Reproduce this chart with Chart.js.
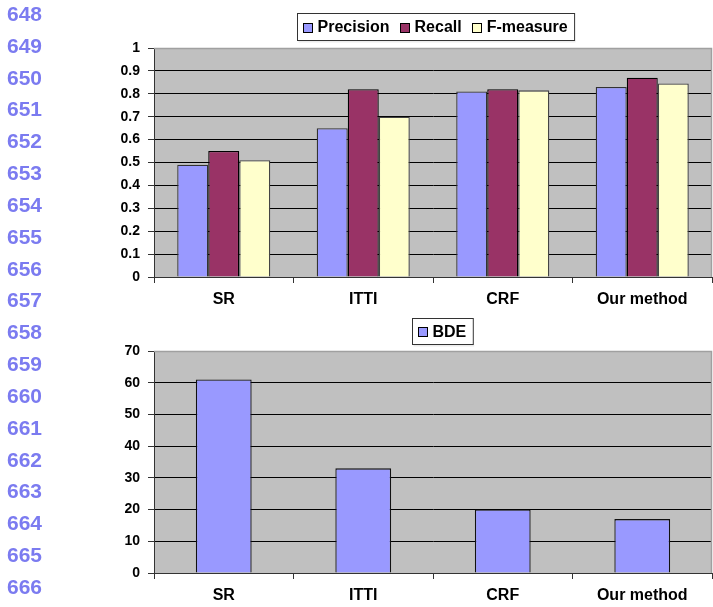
<!DOCTYPE html>
<html>
<head>
<meta charset="utf-8">
<script src="https://cdn.jsdelivr.net/npm/chart.js@4"></script>
<style>
  html, body { margin: 0; padding: 0; background: #fff; width: 713px; height: 607px; overflow: hidden; }
  #wrap { position: relative; width: 713px; height: 607px; }
  canvas { position: absolute; left: 0; }
  .ln {
    position: absolute; left: 7px;
    font: bold 20px 'Liberation Sans', Arial, sans-serif;
    color: #7b7bf0; line-height: 20px;
    transform: scaleX(1.05); transform-origin: left center;
  }
</style>
</head>
<body>
<div id="wrap">
  <canvas id="top" width="713" height="310" style="top:0"></canvas>
  <canvas id="bottom" width="713" height="302" style="top:305px"></canvas>
</div>
<script>
// Methods compared on the x axis of both panels
const methods = ['SR', 'ITTI', 'CRF', 'Our method'];

// Upper panel: retrieval scores
const precision = [0.49, 0.65, 0.81, 0.83];
const recall    = [0.55, 0.82, 0.82, 0.87];
const fMeasure  = [0.51, 0.70, 0.815, 0.845];
const scoreTicks = ['0', '0.1', '0.2', '0.3', '0.4', '0.5', '0.6', '0.7', '0.8', '0.9', '1'];

// Lower panel: boundary displacement error
const bde = [61, 33, 20, 17];
const bdeTicks = ['0', '10', '20', '30', '40', '50', '60', '70'];

// Manuscript line numbers in the margin
const lineNumbers = [648, 649, 650, 651, 652, 653, 654, 655, 656, 657,
                     658, 659, 660, 661, 662, 663, 664, 665, 666];

const wrap = document.getElementById('wrap');
lineNumbers.forEach((n, i) => {
  const d = document.createElement('div');
  d.className = 'ln';
  d.textContent = String(n);
  d.style.top = (14 + i * 31.83 - 10) + 'px';
  wrap.appendChild(d);
});

Chart.defaults.font.family = "'Liberation Sans', Arial, sans-serif";
Chart.defaults.color = '#000';

// Grey plot background plus light frame along the top and right edges
const plotFrame = {
  id: 'plotFrame',
  beforeDraw(chart) {
    const { ctx, chartArea: a } = chart;
    ctx.save();
    ctx.fillStyle = '#c0c0c0';
    ctx.fillRect(a.left, a.top, a.right - a.left, a.bottom - a.top);
    ctx.restore();
  },
  afterDraw(chart) {
    const { ctx, chartArea: a } = chart;
    ctx.save();
    ctx.strokeStyle = '#a0a0a0';
    ctx.lineWidth = 1.5;
    ctx.beginPath();
    ctx.moveTo(a.left, a.top + 0.5);
    ctx.lineTo(a.right - 0.5, a.top + 0.5);
    ctx.lineTo(a.right - 0.5, a.bottom);
    ctx.stroke();
    ctx.restore();
  }
};

// Boxed legend with square swatches, centred at a given x
const boxLegend = {
  id: 'boxLegend',
  afterDraw(chart, args, opts) {
    const { ctx } = chart;
    const font = "bold 16px 'Liberation Sans', Arial, sans-serif";
    ctx.save();
    ctx.font = font;
    const sw = 9, gapText = 6, gapItem = 10, padL = 5, padR = 7;
    const items = chart.data.datasets.map(ds => ({
      label: ds.label, fill: ds.backgroundColor,
      w: ctx.measureText(ds.label).width
    }));
    let total = padL + padR;
    items.forEach((it, i) => { total += sw + gapText + it.w + (i < items.length - 1 ? gapItem : 0); });
    const h = opts.height;
    const x0 = Math.round(opts.centerX - total / 2) + 0.5;
    const y0 = opts.top + 0.5;
    // soft shadow
    ctx.fillStyle = 'rgba(0,0,0,0.08)';
    ctx.fillRect(x0 + 1, y0 + h, total, 2);
    ctx.fillStyle = '#fff';
    ctx.fillRect(x0, y0, total, h);
    ctx.strokeStyle = '#333';
    ctx.lineWidth = 1;
    ctx.strokeRect(x0, y0, total, h);
    let x = x0 + padL;
    const cy = y0 + h / 2;
    ctx.textBaseline = 'middle';
    ctx.textAlign = 'left';
    items.forEach(it => {
      ctx.fillStyle = it.fill;
      ctx.fillRect(Math.round(x) + 0.5, Math.round(cy - sw / 2) + 0.5, sw, sw);
      ctx.strokeStyle = '#000';
      ctx.strokeRect(Math.round(x) + 0.5, Math.round(cy - sw / 2) + 0.5, sw, sw);
      x += sw + gapText;
      ctx.fillStyle = '#000';
      ctx.fillText(it.label, x, cy + 1);
      x += it.w + gapItem;
    });
    ctx.restore();
  }
};

function makeScales(max, step, tickLabels, xHeight) {
  return {
    x: {
      offset: true,
      grid: { offset: true, drawOnChartArea: false, drawTicks: true, tickLength: 6, tickColor: '#333' },
      border: { display: true, color: '#333', width: 1 },
      ticks: { font: { size: 16, weight: 'bold' }, padding: 7, maxRotation: 0, color: '#000' },
      afterFit(s) { s.height = xHeight; }
    },
    y: {
      min: 0, max: max,
      ticks: {
        stepSize: step, padding: 8, color: '#000',
        font: { size: 14, weight: 'bold' },
        callback: (v, i) => tickLabels[i]
      },
      grid: {
        color: c => (c.tick && c.tick.value === max) ? 'rgba(0,0,0,0)' : '#000',
        lineWidth: 1, tickLength: 6, tickColor: '#333', drawTicks: true
      },
      border: { display: true, color: '#333', width: 1 },
      afterFit(s) { s.width = 154; }
    }
  };
}

new Chart(document.getElementById('top'), {
  type: 'bar',
  data: {
    labels: methods,
    datasets: [
      { label: 'Precision', data: precision, backgroundColor: '#9999ff', borderColor: '#333', borderWidth: 1.3 },
      { label: 'Recall',    data: recall,    backgroundColor: '#993366', borderColor: '#000', borderWidth: 1.3 },
      { label: 'F-measure', data: fMeasure,  backgroundColor: '#ffffcc', borderColor: '#444', borderWidth: 1.3 }
    ]
  },
  options: {
    responsive: false, animation: false, devicePixelRatio: 1,
    layout: { padding: { top: 48, right: 1, left: 0, bottom: 0 } },
    datasets: { bar: { categoryPercentage: 0.667, barPercentage: 1.0 } },
    scales: makeScales(1, 0.1, scoreTicks, 33),
    plugins: {
      legend: { display: false },
      tooltip: { enabled: false },
      boxLegend: { centerX: 435.5, top: 13, height: 27 }
    }
  },
  plugins: [plotFrame, boxLegend]
});

new Chart(document.getElementById('bottom'), {
  type: 'bar',
  data: {
    labels: methods,
    datasets: [
      { label: 'BDE', data: bde, backgroundColor: '#9999ff', borderColor: '#111', borderWidth: 1.3 }
    ]
  },
  options: {
    responsive: false, animation: false, devicePixelRatio: 1,
    layout: { padding: { top: 46, right: 1, left: 0, bottom: 0 } },
    datasets: { bar: { categoryPercentage: 0.4, barPercentage: 1.0 } },
    scales: makeScales(70, 10, bdeTicks, 34),
    plugins: {
      legend: { display: false },
      tooltip: { enabled: false },
      boxLegend: { centerX: 442, top: 13, height: 26 }
    }
  },
  plugins: [plotFrame, boxLegend]
});
</script>
</body>
</html>
